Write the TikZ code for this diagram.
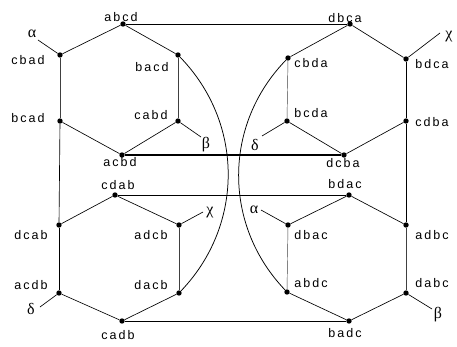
\documentclass[tikz,border=0pt]{standalone}
\usepackage{fontspec}
\setmainfont{Liberation Sans}[LetterSpace=16]
\newfontfamily\grk{Liberation Serif}
\begin{document}
\begin{tikzpicture}[x=1pt,y=-1pt,
  dot/.style={circle,fill=black,inner sep=0pt,minimum size=5.4pt},
  lab/.style={anchor=base,inner sep=0pt,font=\fontsize{12.5}{12.5}\selectfont},
  gk/.style={inner sep=0pt,font=\grk\fontsize{16}{16}\selectfont},
  edge/.style={line width=0.65pt},
  thin/.style={line width=0.45pt,black!75},
  hbar/.style={line width=0.9pt},
  hthick/.style={line width=1.3pt},
  curve/.style={line width=0.75pt}]
\useasboundingbox (0,0) rectangle (457,347);
% top-left
\node[dot] (abcd) at (123,24) {};
\node[dot] (cbad) at (60,55) {};
\node[dot] (bacd) at (178,55) {};
\node[dot] (bcad) at (60,121) {};
\node[dot] (cabd) at (178,121) {};
\node[dot] (acbd) at (122,155) {};
% top-right
\node[dot] (dbca) at (350,24) {};
\node[dot] (cbda) at (288,58) {};
\node[dot] (bdca) at (406,59) {};
\node[dot] (bcda) at (287,121) {};
\node[dot] (cdba) at (406,121) {};
\node[dot] (dcba) at (344,155) {};
% bottom-left
\node[dot] (cdab) at (115,195) {};
\node[dot] (dcab) at (59,225) {};
\node[dot] (adcb) at (179,225) {};
\node[dot] (acdb) at (59,293) {};
\node[dot] (dacb) at (179,293) {};
\node[dot] (cadb) at (122,321) {};
% bottom-right
\node[dot] (bdac) at (349,195) {};
\node[dot] (dbac) at (288,225) {};
\node[dot] (adbc) at (406,225) {};
\node[dot] (abdc) at (287,292) {};
\node[dot] (dabc) at (406,293) {};
\node[dot] (badc) at (349,321) {};
% free ends
\coordinate (eA1) at (38,40);
\coordinate (eB1) at (201,137);
\coordinate (eX1) at (440,33);
\coordinate (eD1) at (262,136);
\coordinate (eX2) at (203,212);
\coordinate (eD2) at (40,307);
\coordinate (eA2) at (261,210);
\coordinate (eB2) at (432,309);
% labels
\node[lab] (l-abcd) at (121,22) {abcd};
\node[lab] (l-cbad) at (28,65) {cbad};
\node[lab] (l-bacd) at (152,72) {bacd};
\node[lab] (l-bcad) at (28,123) {bcad};
\node[lab] (l-cabd) at (151,120) {cabd};
\node[lab] (l-acbd) at (120,167) {acbd};
\node[lab] (l-dbca) at (345,23) {dbca};
\node[lab] (l-cbda) at (311,68) {cbda};
\node[lab] (l-bdca) at (432,69) {bdca};
\node[lab] (l-bcda) at (311,118) {bcda};
\node[lab] (l-cdba) at (432,127) {cdba};
\node[lab] (l-dcba) at (343,168) {dcba};
\node[lab] (l-cdab) at (118,190) {cdab};
\node[lab] (l-dcab) at (31,239) {dcab};
\node[lab] (l-adcb) at (151,239) {adcb};
\node[lab] (l-acdb) at (31,289) {acdb};
\node[lab] (l-dacb) at (151,289) {dacb};
\node[lab] (l-cadb) at (118,339) {cadb};
\node[lab] (l-bdac) at (345,189) {bdac};
\node[lab] (l-dbac) at (311,239) {dbac};
\node[lab] (l-adbc) at (432,239) {adbc};
\node[lab] (l-abdc) at (311,287) {abdc};
\node[lab] (l-dabc) at (432,287) {dabc};
\node[lab] (l-badc) at (345,337) {badc};
\node[gk] (g-a1) at (32,34) {α};
\node[gk] (g-b1) at (206,145) {β};
\node[gk] (g-x1) at (449,37) {χ};
\node[gk] (g-d1) at (255,145) {δ};
\node[gk] (g-x2) at (210,213) {χ};
\node[gk] (g-d2) at (31,309) {δ};
\node[gk] (g-a2) at (254,210) {α};
\node[gk] (g-b2) at (438,315) {β};
% hexagon edges
\draw[edge] (abcd) -- (cbad); \draw[edge] (abcd) -- (bacd);
\draw[thin] (cbad) -- (bcad); \draw[thin] (bacd) -- (cabd);
\draw[edge] (bcad) -- (acbd); \draw[edge] (cabd) -- (acbd);
\draw[edge] (dbca) -- (cbda); \draw[edge] (dbca) -- (bdca);
\draw[thin] (cbda) -- (bcda); \draw[edge] (bdca) -- (cdba);
\draw[edge] (bcda) -- (dcba); \draw[edge] (cdba) -- (dcba);
\draw[edge] (cdab) -- (dcab); \draw[edge] (cdab) -- (adcb);
\draw[edge] (dcab) -- (acdb); \draw[thin] (adcb) -- (dacb);
\draw[edge] (acdb) -- (cadb); \draw[edge] (dacb) -- (cadb);
\draw[edge] (bdac) -- (dbac); \draw[edge] (bdac) -- (adbc);
\draw[thin] (dbac) -- (abdc); \draw[thin] (adbc) -- (dabc);
\draw[edge] (abdc) -- (badc); \draw[edge] (dabc) -- (badc);
% long verticals
\draw[edge] (bcad) -- (dcab);
\draw[edge] (cdba) -- (adbc);
% horizontals
\draw[hbar] (abcd) -- (dbca);
\draw[hthick] (acbd) -- (dcba);
\draw[edge] (cdab) -- (bdac);
\draw[hbar] (cadb) -- (badc);
% arcs
\draw[curve] (bacd) to[bend left=44] (dacb);
\draw[curve] (cbda) to[bend right=44] (abdc);
% stubs
\draw[edge] (cbad) -- (eA1);
\draw[edge] (cabd) -- (eB1);
\draw[edge] (bdca) -- (eX1);
\draw[edge] (bcda) -- (eD1);
\draw[edge] (adcb) -- (eX2);
\draw[edge] (acdb) -- (eD2);
\draw[edge] (dbac) -- (eA2);
\draw[edge] (dabc) -- (eB2);
\end{tikzpicture}
\end{document}
